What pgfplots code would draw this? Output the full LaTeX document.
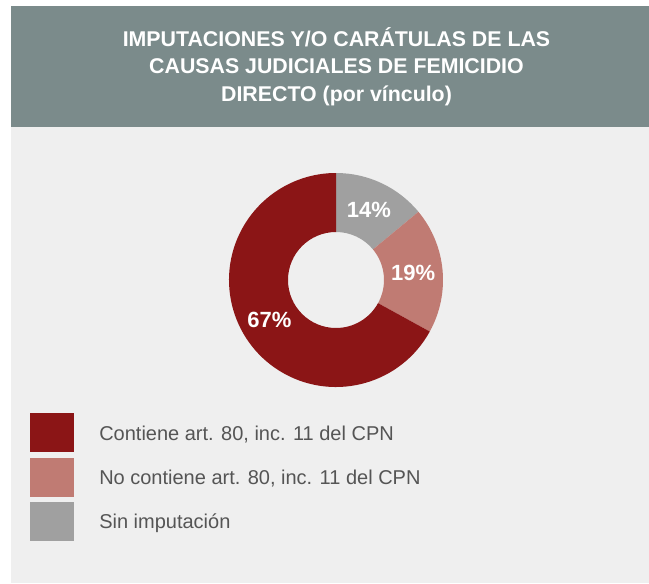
\documentclass[border=0pt]{standalone}
\usepackage{pgfplots}
\pgfplotsset{compat=1.18}
\usepackage{fontspec}
\setmainfont{Liberation Sans}
\definecolor{hdr}{HTML}{7B8B8B}
\definecolor{bodybg}{HTML}{EFEFEF}
\definecolor{cdark}{HTML}{8B1516}
\definecolor{clight}{HTML}{C07B73}
\definecolor{cgray}{HTML}{A0A0A0}
\definecolor{ltxt}{HTML}{555555}
% data (percent)
\def\vA{14}% Sin imputacion
\def\vB{19}% No contiene
\def\vC{67}% Contiene
\pgfmathsetmacro{\aA}{90}
\pgfmathsetmacro{\aB}{\aA-3.6*\vA}
\pgfmathsetmacro{\aC}{\aB-3.6*\vB}
\pgfmathsetmacro{\aD}{\aC-3.6*\vC}
\pgfmathsetmacro{\mA}{(\aA+\aB)/2}
\pgfmathsetmacro{\mB}{(\aB+\aC)/2}
\pgfmathsetmacro{\mC}{(\aC+\aD)/2}
\def\Ro{80.25pt}
\def\Ri{36pt}
\def\ri{0.4486}
\def\rl{0.724}
\begin{document}
\begin{tikzpicture}[x=0.75pt,y=0.75pt]
\fill[white] (0,0) rectangle (649,583);
\fill[bodybg] (11,0) rectangle (649,456);
\fill[hdr] (11,456) rectangle (649,577);
\begin{scope}[font=\bfseries\fontsize{16}{19}\selectfont, text=white]
\node[anchor=base] at (336.5,536) {IMPUTACIONES Y/O CARÁTULAS DE LAS};
\node[anchor=base] at (336.5,509) {CAUSAS JUDICIALES DE FEMICIDIO};
\node[anchor=base] at (336.5,481) {DIRECTO (por vínculo)};
\end{scope}
\begin{axis}[at={(252pt,227.25pt)}, anchor=origin, scale only axis, width=160.5pt, height=160.5pt,
  xmin=-1, xmax=1, ymin=-1, ymax=1, hide axis, clip=false]
\fill[cgray] (axis cs:{cos(\aA)},{sin(\aA)}) arc[start angle=\aA, end angle=\aB, radius=\Ro]
  -- (axis cs:{\ri*cos(\aB)},{\ri*sin(\aB)}) arc[start angle=\aB, end angle=\aA, radius=\Ri] -- cycle;
\fill[clight] (axis cs:{cos(\aB)},{sin(\aB)}) arc[start angle=\aB, end angle=\aC, radius=\Ro]
  -- (axis cs:{\ri*cos(\aC)},{\ri*sin(\aC)}) arc[start angle=\aC, end angle=\aB, radius=\Ri] -- cycle;
\fill[cdark] (axis cs:{cos(\aC)},{sin(\aC)}) arc[start angle=\aC, end angle=\aD, radius=\Ro]
  -- (axis cs:{\ri*cos(\aD)},{\ri*sin(\aD)}) arc[start angle=\aD, end angle=\aC, radius=\Ri] -- cycle;
\node[text=white, font=\bfseries\fontsize{16.5}{18}\selectfont] at (axis cs:{\rl*cos(\mA)},{\rl*sin(\mA)}) {\vA\%};
\node[text=white, font=\bfseries\fontsize{16.5}{18}\selectfont] at (axis cs:{\rl*cos(\mB)},{\rl*sin(\mB)}) {\vB\%};
\node[text=white, font=\bfseries\fontsize{16.5}{18}\selectfont] at (axis cs:{\rl*cos(\mC)},{\rl*sin(\mC)}) {\vC\%};
\end{axis}
\fill[cdark] (30,131) rectangle (74,170);
\fill[clight] (30,86) rectangle (74,125);
\fill[cgray] (30,42) rectangle (74,81);
\begin{scope}[font=\fontsize{15}{18}\selectfont, text=ltxt]
\node[anchor=base west, inner sep=0pt] at (99,143) {Contiene art. 80, inc. 11 del CPN};
\node[anchor=base west, inner sep=0pt] at (99,99) {No contiene art. 80, inc. 11 del CPN};
\node[anchor=base west, inner sep=0pt] at (99,55) {Sin imputación};
\end{scope}
\end{tikzpicture}
\end{document}
